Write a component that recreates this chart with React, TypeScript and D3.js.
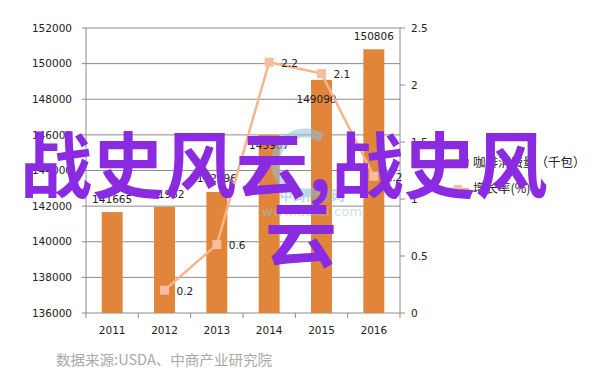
import React from "react";
import * as d3 from "d3";

const years = ["2011", "2012", "2013", "2014", "2015", "2016"];
const consumption = [141665, 141952, 142796, 145987, 149090, 150806];
const growthYears = ["2012", "2013", "2014", "2015", "2016"];
const growth = [0.2, 0.6, 2.2, 2.1, 1.2];
const leftTicks = [136000, 138000, 140000, 142000, 144000, 146000, 148000, 150000, 152000];
const rightTicks = [0, 0.5, 1, 1.5, 2, 2.5];
const legendLabels = ["咖啡消费量（千包）", "增长率(%)"];
const sourceText = "数据来源:USDA、中商产业研究院";
const watermarkLine1 = "战史风云,战史风";
const watermarkLine2 = "云";

// label nudges (style only)
const barLabelDy = [-9, -9, -10, 14, 23, -9];
const barLabelDx = [0, 0, 0, 0, -5, 0];

const W = 602;
const H = 384;
const L = 86, R = 400, T = 28, B = 313;

const BAR = "#E0853A";
const LINE = "#F6B68D";
const MARK = "#F8BDA0";
const GRID = "#8c8c8c";
const TXT = "#222";
const FONT = "'DejaVu Sans', Verdana, sans-serif";
const CJK = "'Noto Sans CJK SC', sans-serif";

export default function App() {
  const x = d3.scaleBand<string>().domain(years).range([L, R]).paddingInner(0.6).paddingOuter(0.3);
  const step = (R - L) / years.length;
  const xc = (k: string) => L + step * (years.indexOf(k) + 0.5);
  const y = d3.scaleLinear().domain([136000, 152000]).range([B, T]);
  const yr = d3.scaleLinear().domain([0, 2.5]).range([B, T]);
  const pts: [number, number][] = growthYears.map((k, i) => [xc(k), yr(growth[i])]);
  const line = d3.line()(pts) || "";
  const fmt = d3.format("d");

  return (
    <svg width={W} height={H} style={{ position: "absolute", left: 0, top: 0, background: "#fff" }}>
      <rect x={0} y={0} width={W} height={H} fill="#fff" />
      {/* gridlines */}
      {leftTicks.map((t) => (
        <line key={t} x1={L - 4} x2={R} y1={y(t)} y2={y(t)} stroke={GRID} strokeWidth={1} />
      ))}
      {/* axes */}
      <line x1={L} x2={L} y1={T} y2={B} stroke={GRID} />
      <line x1={R} x2={R} y1={T} y2={B + 5} stroke={GRID} />
      {rightTicks.map((t) => (
        <line key={t} x1={R} x2={R + 5} y1={yr(t)} y2={yr(t)} stroke={GRID} />
      ))}
      {years.map((k, i) => (
        <line key={k} x1={L + step * i} x2={L + step * i} y1={B} y2={B + 5} stroke={GRID} />
      ))}
      {/* left labels */}
      {leftTicks.map((t) => (
        <text key={t} x={72} y={y(t)} dy="0.35em" textAnchor="end" fontFamily={FONT} fontSize={10.5} fill={TXT}>
          {fmt(t)}
        </text>
      ))}
      {rightTicks.map((t) => (
        <text key={t} x={411} y={yr(t)} dy="0.35em" textAnchor="start" fontFamily={FONT} fontSize={10.5} fill={TXT}>
          {String(t)}
        </text>
      ))}
      {years.map((k) => (
        <text key={k} x={xc(k)} y={330} dy="0.35em" textAnchor="middle" fontFamily={FONT} fontSize={10.5} fill={TXT}>
          {k}
        </text>
      ))}
      {/* bars */}
      {years.map((k, i) => (
        <rect key={k} x={xc(k) - x.bandwidth() / 2} y={y(consumption[i])} width={x.bandwidth()} height={B - y(consumption[i])} fill={BAR} />
      ))}
      {years.map((k, i) => (
        <text key={k} x={xc(k) + barLabelDx[i]} y={y(consumption[i]) + barLabelDy[i]} textAnchor="middle" fontFamily={FONT} fontSize={10.5} fill={TXT}>
          {consumption[i]}
        </text>
      ))}
      {/* line */}
      <path d={line} fill="none" stroke={LINE} strokeWidth={2.5} />
      {pts.map(([px, py], i) => (
        <rect key={i} x={px - 4.5} y={py - 4.5} width={9} height={9} fill={MARK} />
      ))}
      {pts.map(([px, py], i) => (
        <text key={i} x={px + 12} y={py + 1} dy="0.35em" fontFamily={FONT} fontSize={10.5} fill={TXT}>
          {growth[i].toFixed(1)}
        </text>
      ))}
      {/* legend */}
      <rect x={445} y={159} width={24} height={7} fill={BAR} />
      <text x={473} y={163} dy="0.35em" fontFamily={CJK} fontSize={12.5} fill={TXT}>{legendLabels[0]}</text>
      <line x1={447} x2={469} y1={189} y2={189} stroke={LINE} strokeWidth={2.5} />
      <rect x={454} y={185} width={8} height={8} fill={MARK} />
      <text x={473} y={189} dy="0.35em" fontFamily={CJK} fontSize={12.5} fill={TXT}>{legendLabels[1]}</text>
      {/* faint logo watermark */}
      <g opacity={0.55}>
        <path d="M 322 138 A 30 30 0 1 0 322 188" fill="none" stroke="#8fc2da" strokeWidth={9} />
        <text x={312} y={200} textAnchor="middle" fontFamily={CJK} fontSize={13} fill="#7fb3cc" fontWeight="bold">中商情报网</text>
        <text x={312} y={216} textAnchor="middle" fontFamily={FONT} fontSize={13} fill="#9cc6da">www.askci.com</text>
      </g>
      {/* source */}
      <text x={56} y={365} fontFamily={CJK} fontSize={14} fill="#a9a9a9" textLength={216} lengthAdjust="spacingAndGlyphs">{sourceText}</text>
      {/* purple watermark */}
      <text x={20} y={192} fontFamily={CJK} fontWeight="bold" fontSize={72} fill="#8a2be2">{watermarkLine1}</text>
      <text x={301} y={261} textAnchor="middle" fontFamily={CJK} fontWeight="bold" fontSize={72} fill="#8a2be2">{watermarkLine2}</text>
    </svg>
  );
}
